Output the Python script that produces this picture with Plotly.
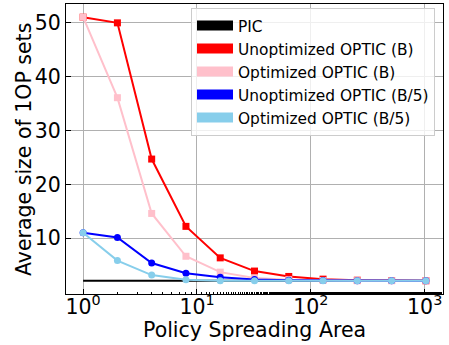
import plotly.graph_objects as go

# ---- data ----
areas = [1, 2, 4, 8, 16, 32, 64, 128, 256, 512, 1024]
pic = [2.09, 2.09, 2.09, 2.09, 2.09, 2.09, 2.09, 2.09, 2.09, 2.09, 2.09]
unopt_B = [51.05, 50.0, 24.7, 12.2, 6.35, 3.9, 2.9, 2.4, 2.2, 2.15, 2.1]
opt_B = [51.05, 36.1, 14.6, 6.65, 3.7, 2.6, 2.3, 2.15, 2.1, 2.1, 2.09]
unopt_B5 = [11.0, 10.15, 5.4, 3.5, 2.75, 2.35, 2.2, 2.15, 2.1, 2.1, 2.09]
opt_B5 = [11.0, 5.85, 3.15, 2.3, 2.1, 2.1, 2.09, 2.09, 2.09, 2.09, 2.09]

series_names = ["PIC", "Unoptimized OPTIC (B)", "Optimized OPTIC (B)",
                "Unoptimized OPTIC (B/5)", "Optimized OPTIC (B/5)"]
x_tickvals = [1, 10, 100, 1000]
x_ticktext = ["10<sup>0</sup>", "10<sup>1</sup>", "10<sup>2</sup>", "10<sup>3</sup>"]
y_tickvals = [10, 20, 30, 40, 50]
x_title = "Policy Spreading Area"
y_title = "Average size of 1OP sets"

colors = ["black", "red", "pink", "blue", "skyblue"]
symbols = [None, "square", "square", "circle", "circle"]
series = [pic, unopt_B, opt_B, unopt_B5, opt_B5]

FONT = "DejaVu Sans"
W, H = 449, 345
L, R, T, B = 66, 6, 4, 51
PW, PH = W - L - R, H - T - B

fig = go.Figure()

for name, ys, c, s in zip(series_names, series, colors, symbols):
    if s is None:
        fig.add_trace(go.Scatter(x=areas, y=ys, mode="lines",
                                 line=dict(color=c, width=2), showlegend=False))
    else:
        fig.add_trace(go.Scatter(x=areas, y=ys, mode="lines+markers",
                                 line=dict(color=c, width=2),
                                 marker=dict(symbol=s, size=7, color=c),
                                 showlegend=False))

# legend patches
for name, c in zip(series_names, colors):
    fig.add_trace(go.Scatter(x=[None], y=[None], mode="lines", name=name,
                             line=dict(color=c, width=10), showlegend=True))

fig.update_layout(
    width=W, height=H,
    margin=dict(l=L, r=R, t=T, b=B, autoexpand=False),
    paper_bgcolor="white", plot_bgcolor="white",
    font=dict(family=FONT, size=20.5, color="black"),
    showlegend=True,
    legend=dict(x=(435 - L) / PW, xanchor="right",
                y=1 - (8 - T) / PH, yanchor="top",
                bgcolor="rgba(255,255,255,0.8)", bordercolor="#cccccc",
                borderwidth=1, font=dict(family=FONT, size=15.4),
                itemwidth=36, tracegroupgap=0),
    annotations=[
        dict(text=x_title, xref="paper", yref="paper",
             x=0.5, y=(T + PH - 330) / PH, xanchor="center", yanchor="middle",
             showarrow=False, font=dict(family=FONT, size=20.5)),
        dict(text=y_title, xref="paper", yref="paper", textangle=-90,
             x=(24 - L) / PW, y=(T + PH - 150) / PH, xanchor="center", yanchor="middle",
             showarrow=False, font=dict(family=FONT, size=20.5)),
    ],
)

fig.update_xaxes(type="log", range=[-0.1505, 3.1608], automargin=False,
                 tickvals=x_tickvals, ticktext=x_ticktext, ticklabelstandoff=-6,
                 ticks="inside", ticklen=5, tickcolor="black",
                 showgrid=True, gridcolor="#b0b0b0", gridwidth=1,
                 showline=True, linecolor="black", linewidth=1, mirror=True,
                 zeroline=False,
                 minor=dict(ticks="inside", ticklen=2.5, tickcolor="black", showgrid=False))
fig.update_yaxes(range=[-0.36, 53.5], tickvals=y_tickvals, automargin=False,
                 ticks="inside", ticklen=5, tickcolor="black",
                 showgrid=True, gridcolor="#b0b0b0", gridwidth=1,
                 showline=True, linecolor="black", linewidth=1, mirror=True,
                 zeroline=False)

fig.write_html("out.html", config={"displayModeBar": False},
               post_script="document.body.style.margin='0px';document.body.style.overflow='hidden';")
